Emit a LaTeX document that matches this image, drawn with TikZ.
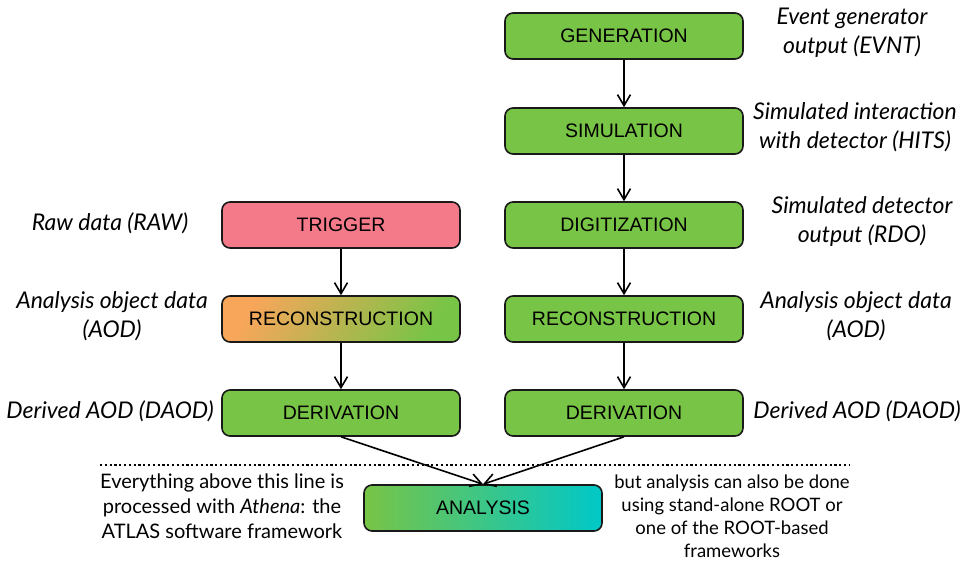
\documentclass[tikz,border=0pt]{standalone}
\usepackage{fontspec}
\setmainfont{Lato}
\newfontfamily\boxfont{Liberation Sans}
\usetikzlibrary{arrows.meta}
\definecolor{boxgreen}{RGB}{120,196,70}
\definecolor{trigpink}{RGB}{244,122,138}
\definecolor{recorange}{RGB}{247,166,90}
\definecolor{anacyan}{RGB}{0,200,200}
\definecolor{edge}{RGB}{25,25,25}
\tikzset{
  stagebox/.style={draw=edge, line width=1.6pt, rounded corners=8pt, minimum width=238pt,
    minimum height=46pt, inner sep=0pt, font=\boxfont\fontsize{19.5}{22}\selectfont},
  greenbox/.style={stagebox, fill=boxgreen},
  lbl/.style={align=center, font=\itshape\fontsize{23}{29}\selectfont, inner sep=0pt},
  note/.style={align=center, font=\fontsize{20}{25}\selectfont, inner sep=0pt},
  arr/.style={line width=1.6pt, -{Straight Barb[length=11pt,width=13pt,line width=1.6pt]}}
}
\begin{document}
\begin{tikzpicture}[x=1pt,y=-1pt]
\useasboundingbox (0,0) rectangle (965,563);
% right chain
\node[greenbox] (gen) at (624,36) {GENERATION};
\node[greenbox] (sim) at (624,131) {SIMULATION};
\node[greenbox] (digi) at (624,225) {DIGITIZATION};
\node[greenbox] (recoR) at (624,319) {RECONSTRUCTION};
\node[greenbox] (derR) at (624,413) {DERIVATION};
% left chain
\node[stagebox, fill=trigpink] (trig) at (341,225) {TRIGGER};
\node[stagebox, top color=recorange, bottom color=boxgreen, shading angle=60] (recoL) at (341,319) {RECONSTRUCTION};
\node[greenbox] (derL) at (341,413) {DERIVATION};
% analysis
\node[stagebox, left color=boxgreen, right color=anacyan] (ana) at (483,508) {ANALYSIS};
% arrows
\draw[arr] (gen) -- (sim);
\draw[arr] (sim) -- (digi);
\draw[arr] (digi) -- (recoR);
\draw[arr] (recoR) -- (derR);
\draw[arr] (trig) -- (recoL);
\draw[arr] (recoL) -- (derL);
\draw[arr] (derL.south) -- (ana.north);
\draw[arr] (derR.south) -- (ana.north);
% dotted line
\coordinate (dl) at (100,465);
\coordinate (dr) at (850,465);
\draw[line width=2.2pt, dash pattern=on 2.2pt off 2.6pt] (dl) -- (dr);
% labels right
\node[lbl] (lgen) at (852,33) {Event generator\\output (EVNT)};
\node[lbl] (lsim) at (855,127) {Simulated interaction\\with detector (HITS)};
\node[lbl] (ldigi) at (862,221) {Simulated detector\\output (RDO)};
\node[lbl] (lrecoR) at (856,316) {Analysis object data\\(AOD)};
\node[lbl] (lderR) at (857,411) {Derived AOD (DAOD)};
% labels left
\node[lbl] (ltrig) at (110,223) {Raw data (RAW)};
\node[lbl] (lrecoL) at (112,316) {Analysis object data\\(AOD)};
\node[lbl] (lderL) at (110,411) {Derived AOD (DAOD)};
% notes
\node[note] (nleft) at (222,506) {Everything above this line is\\processed with \textit{Athena}: the\\ATLAS software framework};
\node[note, font=\fontsize{18.5}{23}\selectfont] (nright) at (732,516) {but analysis can also be done\\using stand-alone ROOT or\\one of the ROOT-based\\frameworks};
\end{tikzpicture}
\end{document}
